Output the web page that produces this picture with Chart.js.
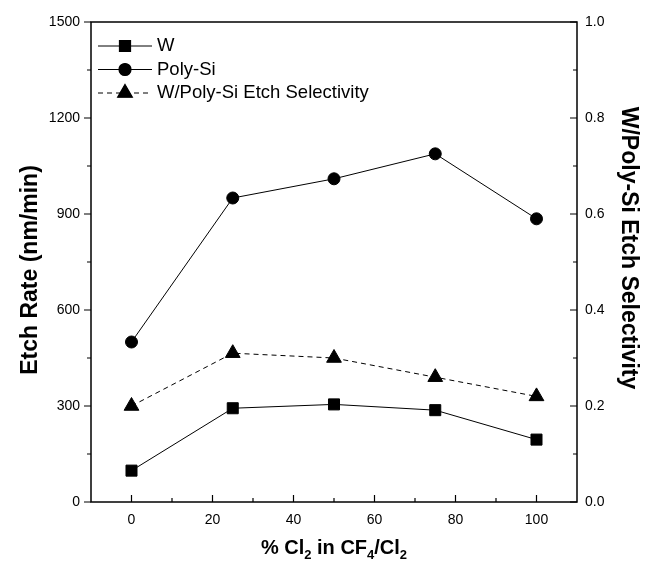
<!DOCTYPE html>
<html>
<head>
<meta charset="utf-8">
<script src="https://cdn.jsdelivr.net/npm/chart.js@4"></script>
<style>
  html, body { margin: 0; padding: 0; background: #fff; }
  #wrap { width: 645px; height: 563px; }
</style>
</head>
<body>
<div id="wrap"><canvas id="etchChart" width="645" height="563"></canvas></div>
<script>
const clPercent = [0, 25, 50, 75, 100];
const wRate = [98, 293, 305, 287, 195];
const polyRate = [500, 950, 1010, 1088, 885];
const selectivity = [0.2, 0.31, 0.30, 0.26, 0.22];
const xTicks = [0, 20, 40, 60, 80, 100];
const leftTicks = [0, 300, 600, 900, 1200, 1500];
const rightTicks = [0, 0.2, 0.4, 0.6, 0.8, 1.0];
const leftTitle = 'Etch Rate (nm/min)';
const rightTitle = 'W/Poly-Si Etch Selectivity';

const FONT = "'Liberation Sans', Arial, sans-serif";

const toPoints = (ys) => clPercent.map((x, i) => ({ x: x, y: ys[i] }));

function vertText(ctx, text, x, y, angle) {
  ctx.save();
  ctx.translate(x, y);
  ctx.rotate(angle);
  ctx.textAlign = 'center';
  ctx.textBaseline = 'middle';
  ctx.fillText(text, 0, 0);
  ctx.restore();
}

// frame, tick marks, legend and axis titles
const decor = {
  id: 'decor',
  afterDraw(chart) {
    const ctx = chart.ctx;
    const a = chart.chartArea;
    const sx = chart.scales.x, sl = chart.scales.y, sr = chart.scales.y2;
    ctx.save();
    ctx.strokeStyle = '#000';
    ctx.fillStyle = '#000';
    ctx.lineWidth = 1.5;
    ctx.strokeRect(a.left, a.top, a.right - a.left, a.bottom - a.top);

    ctx.lineWidth = 1.2;
    ctx.beginPath();
    for (let v = 0; v <= 100; v += 10) {
      const px = sx.getPixelForValue(v);
      const len = v % 20 === 0 ? 7 : 4;
      ctx.moveTo(px, a.bottom);
      ctx.lineTo(px, a.bottom - len);
    }
    for (let v = 0; v <= 1500; v += 150) {
      const py = sl.getPixelForValue(v);
      const len = v % 300 === 0 ? 7 : 4;
      ctx.moveTo(a.left, py);
      ctx.lineTo(a.left - len, py);
    }
    for (let k = 0; k <= 10; k++) {
      const py = sr.getPixelForValue(k / 10);
      const len = k % 2 === 0 ? 7 : 4;
      ctx.moveTo(a.right, py);
      ctx.lineTo(a.right - len, py);
    }
    ctx.stroke();

    // legend
    ctx.font = '18.5px ' + FONT;
    ctx.textBaseline = 'middle';
    chart.data.datasets.forEach((ds, i) => {
      const y = a.top + 24 + i * 23.5;
      ctx.save();
      ctx.lineWidth = 1;
      ctx.setLineDash(ds.borderDash || []);
      ctx.beginPath();
      ctx.moveTo(a.left + 7, y);
      ctx.lineTo(a.left + 61, y);
      ctx.stroke();
      ctx.restore();
      Chart.helpers.drawPoint(ctx, {
        pointStyle: ds.pointStyle, radius: ds.pointRadius, borderWidth: 1
      }, a.left + 34, y);
      ctx.fill();
      ctx.fillText(ds.label, a.left + 66, y);
    });

    // y titles
    ctx.font = 'bold 23px ' + FONT;
    vertText(ctx, leftTitle, 31, 270, -Math.PI / 2);
    vertText(ctx, rightTitle, 628, 248, Math.PI / 2);

    // x title: % Cl2 in CF4/Cl2
    const parts = [['% Cl', false], ['2', true], [' in CF', false], ['4', true], ['/Cl', false], ['2', true]];
    const big = 'bold 20px ' + FONT, small = 'bold 13px ' + FONT;
    let total = 0;
    parts.forEach(p => { ctx.font = p[1] ? small : big; total += ctx.measureText(p[0]).width; });
    let x = (a.left + a.right) / 2 - total / 2;
    const base = 554;
    ctx.textBaseline = 'alphabetic';
    ctx.textAlign = 'left';
    parts.forEach(p => {
      ctx.font = p[1] ? small : big;
      ctx.fillText(p[0], x, p[1] ? base + 5 : base);
      x += ctx.measureText(p[0]).width;
    });
    ctx.restore();
  }
};

const config = {
  type: 'line',
  data: {
    datasets: [
      {
        label: 'W',
        data: toPoints(wRate),
        yAxisID: 'y',
        borderColor: '#000',
        backgroundColor: '#000',
        borderWidth: 1,
        pointStyle: 'rect',
        pointRadius: 7.8,
        pointBorderWidth: 1
      },
      {
        label: 'Poly-Si',
        data: toPoints(polyRate),
        yAxisID: 'y',
        borderColor: '#000',
        backgroundColor: '#000',
        borderWidth: 1,
        pointStyle: 'circle',
        pointRadius: 6,
        pointBorderWidth: 1
      },
      {
        label: 'W/Poly-Si Etch Selectivity',
        data: toPoints(selectivity),
        yAxisID: 'y2',
        borderColor: '#000',
        backgroundColor: '#000',
        borderWidth: 1,
        borderDash: [5, 4],
        pointStyle: 'triangle',
        pointRadius: 8.5,
        pointBorderWidth: 1
      }
    ]
  },
  options: {
    responsive: false,
    animation: false,
    layout: { padding: { top: 22, left: 0, right: 0, bottom: 0 } },
    plugins: {
      legend: { display: false },
      tooltip: { enabled: false }
    },
    scales: {
      x: {
        type: 'linear',
        min: -10,
        max: 110,
        grid: { display: false, drawTicks: false },
        border: { display: false },
        afterBuildTicks: (s) => { s.ticks = xTicks.map(v => ({ value: v })); },
        afterFit: (s) => { s.height = 61; },
        ticks: { color: '#000', padding: 10, font: { family: FONT, size: 14 } }
      },
      y: {
        position: 'left',
        min: 0,
        max: 1500,
        grid: { display: false, drawTicks: false },
        border: { display: false },
        afterBuildTicks: (s) => { s.ticks = leftTicks.map(v => ({ value: v })); },
        afterFit: (s) => { s.width = 91; },
        ticks: {
          color: '#000',
          padding: 11,
          font: { family: FONT, size: 14 },
          callback: (v) => String(v)
        }
      },
      y2: {
        position: 'right',
        min: 0,
        max: 1,
        grid: { display: false, drawTicks: false },
        border: { display: false },
        afterBuildTicks: (s) => { s.ticks = rightTicks.map(v => ({ value: v })); },
        afterFit: (s) => { s.width = 68; },
        ticks: {
          color: '#000',
          padding: 8,
          font: { family: FONT, size: 14 },
          callback: (v) => Number(v).toFixed(1)
        }
      }
    }
  },
  plugins: [decor]
};

new Chart(document.getElementById('etchChart'), config);
</script>
</body>
</html>
